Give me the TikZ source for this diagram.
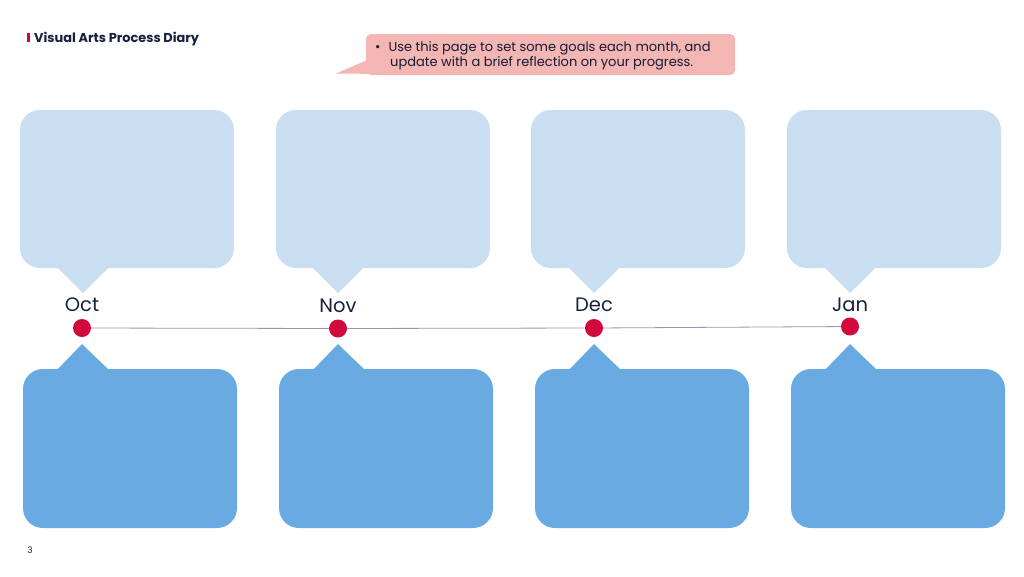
\documentclass[tikz,border=0pt]{standalone}
\usepackage{fontspec}
\setmainfont{Poppins}
\definecolor{lightbox}{HTML}{C9DEF0}
\definecolor{darkbox}{HTML}{6AAAE2}
\definecolor{dotred}{HTML}{D20A3C}
\definecolor{navy}{HTML}{16203F}
\definecolor{pinkbox}{HTML}{F3B6B3}
\definecolor{lineclr}{HTML}{9A98B8}
\tikzset{
  topbox/.style={fill=lightbox, rounded corners=20pt, minimum width=214pt, minimum height=158pt, inner sep=0pt},
  botbox/.style={fill=darkbox, rounded corners=20pt, minimum width=214pt, minimum height=159pt, inner sep=0pt},
  dotnode/.style={circle, fill=dotred, minimum size=18pt, inner sep=0pt},
  month/.style={font=\fontsize{19.5}{21}\selectfont, text=navy},
}
\begin{document}
\begin{tikzpicture}[x=1pt,y=-1pt]
\useasboundingbox (0,0) rectangle (1024,576);
\fill[white] (0,0) rectangle (1024,576);
% title
\fill[dotred] (27,33) rectangle (29.5,42);
\node[anchor=west, inner sep=0pt, text=navy, font=\fontsize{12.9}{14}\selectfont\bfseries] (title) at (34,39.5) {Visual Arts Process Diary};
% callout
\fill[pinkbox] (372,58) -- (336,73.5) -- (385,74) -- cycle;
\node[fill=pinkbox, rounded corners=5pt, minimum width=369pt, minimum height=41pt, inner sep=0pt] (note) at (550.5,54.5) {};
\node[anchor=north west, inner sep=0pt, text=navy!85!black, font=\fontsize{13}{15}\selectfont, align=left] (notetext) at (375,41.5)
  {\textbullet\hspace{8pt}Use this page to set some goals each month, and\\\hspace{15pt}update with a brief reflection on your progress.};
% top boxes
\foreach \i/\cx/\px in {1/127/83, 2/383/338, 3/638/594, 4/894/850}{
  \fill[lightbox] (\px-27,266) -- (\px,293) -- (\px+27,266) -- cycle;
  \node[topbox] (t\i) at (\cx,189) {};
}
% bottom boxes
\foreach \i/\cx/\px in {1/130/82, 2/386/338, 3/642/594, 4/898/850}{
  \fill[darkbox] (\px-26,371) -- (\px,344) -- (\px+28,371) -- cycle;
  \node[botbox] (b\i) at (\cx,448.5) {};
}
% timeline
\node[dotnode] (d1) at (82,328) {};
\node[dotnode] (d2) at (338,328.5) {};
\node[dotnode] (d3) at (594,328) {};
\node[dotnode] (d4) at (850,326.5) {};
\draw[lineclr, line width=0.8pt] (d1) -- (d2);
\draw[lineclr, line width=0.8pt] (d2) -- (d3);
\draw[lineclr, line width=0.8pt] (d3) -- (d4);
\node[month] (m1) at (82,304.5) {Oct};
\node[month] (m2) at (338,305.5) {Nov};
\node[month] (m3) at (594,304.5) {Dec};
\node[month] (m4) at (850,304.5) {Jan};
% page number
\node[text=navy, font=\fontsize{9}{10}\selectfont] (pg) at (30,550) {3};
\end{tikzpicture}
\end{document}
